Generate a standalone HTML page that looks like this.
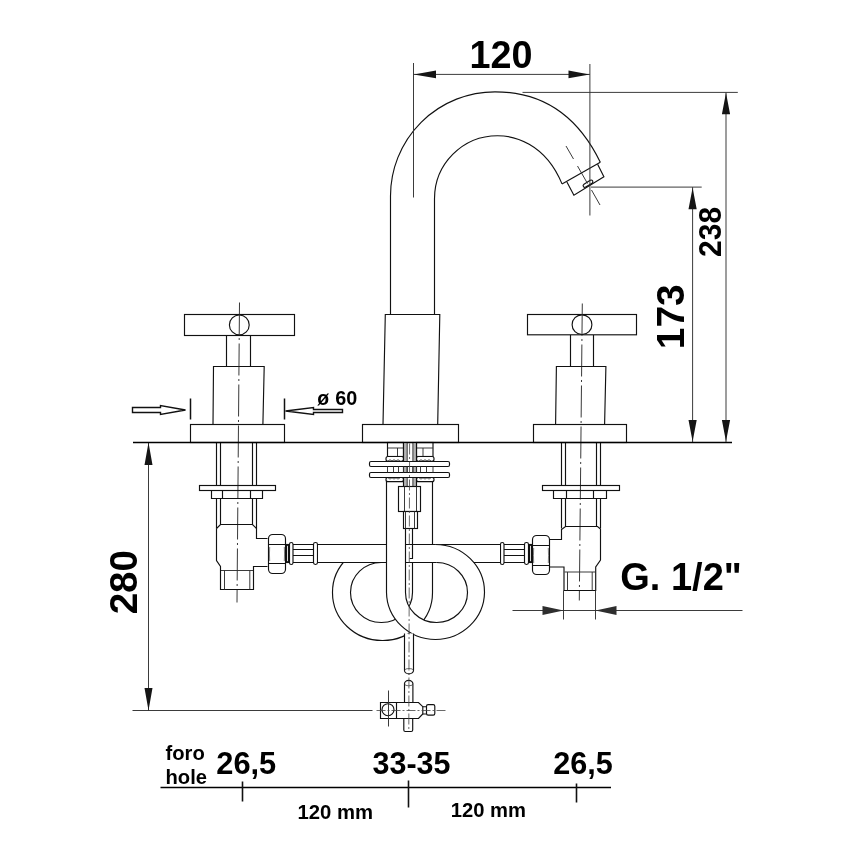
<!DOCTYPE html>
<html>
<head>
<meta charset="utf-8">
<title>Technical drawing</title>
<style>
html,body{margin:0;padding:0;background:#fff;}
svg{display:block;will-change:transform;filter:grayscale(1);}
text{font-family:"Liberation Sans",sans-serif;font-weight:bold;fill:#000;}
.l{fill:none;stroke:#111;stroke-width:1.15;}
.t{fill:none;stroke:#303030;stroke-width:0.95;}
.k{fill:none;stroke:#000;stroke-width:2;}
.w{fill:#fff;stroke:#111;stroke-width:1.15;}
.a{fill:#151515;stroke:none;}
.c{fill:none;stroke:#222;stroke-width:0.9;stroke-dasharray:32 3.5 2 3.5;}
</style>
</head>
<body>
<svg width="868" height="868" viewBox="0 0 868 868">
<rect width="868" height="868" fill="#fff"/>

<!-- ===== SPOUT ===== -->
<g id="spout">
<path class="l" d="M390.5,314.5 V196 A104.5,104.2 0 0 1 495,91.8 C510.4,91.8 566.1,91.8 600.3,162.3"/>
<path class="l" d="M434.5,314.5 V198.7 A63,63 0 0 1 497.5,135.7 C513.1,135.7 544.9,142.6 562,183.9"/>
<path class="l" d="M600.3,162.3 L562,183.9"/>
<path class="l" d="M597.6,164.2 L603.9,176.8 L573.9,195.2 L566.9,182"/>
<rect class="l" x="582.6" y="182" width="10.8" height="3.4" rx="1.7" fill="#fff" transform="rotate(-31.5 588 183.7)"/>
<path class="t" d="M566,146 L573.5,159 M577.5,166 L587.5,183.5 M591.5,190 L600,205"/>
<!-- body -->
<path class="l" d="M385.3,314.5 H439.8 L437.7,424.5 H383 Z"/>
<rect class="l" x="362.5" y="424.5" width="96" height="18"/>
</g>

<!-- ===== LEFT HANDLE ===== -->
<g id="lh">
<rect class="l" x="184.5" y="314.5" width="110" height="21"/>
<circle class="w" cx="239.3" cy="324.9" r="9.9"/>
<path class="l" d="M226.5,335.5 V366.5 M250.5,335.5 V366.5"/>
<path class="l" d="M213.5,366.5 H264.2 L262.9,424.5 H213 Z"/>
<rect class="l" x="190.5" y="424.5" width="94" height="18"/>
<path class="c" d="M239.5,302.5 L237,602.5"/>
<!-- below table -->
<path class="l" d="M216.5,442.5 V485.5 M220.5,442.5 V485.5 M252.5,442.5 V485.5 M256.5,442.5 V485.5"/>
<rect class="l" x="199.5" y="485.5" width="76" height="5"/>
<path class="l" d="M211.5,490.5 V498.5 H262.5 V490.5 M222.5,490.5 V498.5 M250.5,490.5 V498.5"/>
<path class="l" d="M216.5,498.5 V528.5 M220.5,498.5 V524.5 M252.5,498.5 V524.5 M256.5,498.5 V528.5"/>
<path class="l" d="M216.5,528.5 L220.5,524.5 H252.5 L256.5,528.5 V538.5 H267.5 M267.5,566.5 H253.5 V589.5 H220.5 V566.5 L216.5,560.5 V528.5"/>
<path class="t" d="M221,570.5 H253 M224.5,570.5 V589.5 M249.8,570.5 V589.5"/>
<!-- hex nut -->
<rect class="w" x="268.5" y="534.5" width="17" height="39" rx="4.2"/>
<path class="l" d="M268.5,544.5 H285.5 M268.5,563.5 H285.5"/>
<path class="t" d="M269.7,547 Q269.2,554 269.7,561 M284.3,547 Q284.8,554 284.3,561" style="stroke-width:.6"/>
<rect class="l" x="286.5" y="544.5" width="2" height="18"/>
<!-- ferrule -->
<rect class="w" x="292" y="544.5" width="22.5" height="18" rx="1.2"/>
<path class="l" d="M292.5,549.5 H314 M292.5,555.5 H314"/>
<rect class="w" x="289.5" y="542.5" width="3.5" height="22" rx="1.75"/>
<rect class="w" x="313.5" y="542.5" width="4" height="22" rx="1.9"/>
</g>

<!-- ===== RIGHT HANDLE ===== -->
<g id="rh">
<rect class="l" x="527.5" y="314.5" width="109" height="20.3"/>
<circle class="w" cx="582" cy="324.7" r="9.9"/>
<path class="l" d="M570.5,335 V366.5 M593.5,335 V366.5"/>
<path class="l" d="M556.4,366.5 H605.9 L604.6,424.5 H555.6 Z"/>
<rect class="l" x="533.5" y="424.5" width="93" height="18"/>
<path class="c" d="M582.3,303.5 L579.3,600.5"/>
<!-- below table -->
<path class="l" d="M561.5,442.5 V485.5 M565.5,442.5 V485.5 M596.5,442.5 V485.5 M600.5,442.5 V485.5"/>
<rect class="l" x="542.5" y="485.5" width="77" height="5"/>
<path class="l" d="M553.5,490.5 V498.5 H606.5 V490.5 M566.5,490.5 V498.5 M593.5,490.5 V498.5"/>
<path class="l" d="M561.5,498.5 V528.5 M565.5,498.5 V526.5 M596.5,498.5 V526.5 M600.5,498.5 V528.5"/>
<path class="l" d="M600.5,529 L597.5,526.5 H565.5 L561.5,529.5 V539.5 H549.5 M549.5,567 H564 V590.5 H595.7 V567 L600.5,560 V529"/>
<path class="t" d="M564.5,572 H595.5 M567.5,572 V590.5 M592.2,572 V590.5"/>
<!-- hex nut -->
<rect class="w" x="532.5" y="535.5" width="17" height="39" rx="4.2"/>
<path class="l" d="M532.5,545.5 H549.5 M532.5,565.5 H549.5"/>
<path class="t" d="M533.7,548 Q533.2,555.5 533.7,563 M548.3,548 Q548.8,555.5 548.3,563" style="stroke-width:.6"/>
<rect class="l" x="529.5" y="544.5" width="2" height="18"/>
<!-- ferrule -->
<rect class="w" x="503" y="544.5" width="23" height="18" rx="1.2"/>
<path class="l" d="M503.5,549.5 H525.5 M503.5,555.5 H525.5"/>
<rect class="w" x="500.5" y="542.5" width="3.5" height="22" rx="1.75"/>
<rect class="w" x="524.5" y="542.5" width="4" height="22" rx="1.9"/>
</g>

<!-- ===== DIMENSIONS TOP ===== -->
<g id="dimtop">
<path class="t" d="M413.5,63 V197.5 M589.9,64 V215.5"/>
<path class="t" d="M413.5,74.4 H589.9"/>
<path class="a" d="M413.8,74.4 L436,70.5 V78.3 Z M589.6,74.4 L568.5,70.6 V78.2 Z"/>
<text transform="translate(501,68) scale(0.974,1)" font-size="38.8" text-anchor="middle">120</text>
<path class="t" d="M522.5,92.4 H737.8"/>
<path class="t" d="M591,187.1 H701.7"/>
<path class="t" d="M726,92.5 V442.5 M692.6,187.1 V442.5"/>
<path class="a" d="M726,92.8 L721.9,114.3 H730.1 Z M726,441.5 L721.9,420 H730.1 Z M692.6,187.8 L688.5,209.3 H696.7 Z M692.6,441.5 L688.5,420 H696.7 Z"/>
<text transform="translate(720.5,231.9) rotate(-90) scale(0.95,1)" font-size="31.6" text-anchor="middle">238</text>
<text transform="translate(683.8,316.8) rotate(-90) scale(0.99,1)" font-size="39.2" text-anchor="middle">173</text>
</g>

<!-- ===== ø60 ===== -->
<g id="d60">
<path class="l" d="M190.5,398.5 V419.5 M284.5,398.5 V419.5" style="stroke-width:1.5"/>
<path class="l" d="M132.5,407.5 H160.5 V405.5 L185.5,410 L160.5,414.5 V412.5 H132.5 Z" style="stroke-width:1.4"/>
<path class="l" d="M342.5,409.5 H313.5 V407.5 L285.5,411 L313.5,414.5 V412.5 H342.5 Z" style="stroke-width:1.4"/>
<text x="317.2" y="405.2" font-size="19.4">ø</text>
<text x="335.3" y="405.2" font-size="19.8">60</text>
</g>

<!-- ===== HOSES ===== -->
<g id="hoses">
<!-- hose B (from right valve, left loop, behind) -->
<rect x="381" y="544.5" width="119" height="18" fill="#fff"/>
<path class="l" d="M500.5,544.5 H380.5 M500.5,562.5 H380.5"/>
<path class="w" d="M382.5,544.5 A49.7,47.8 0 0 0 332.5,592.5 A49.7,47.8 0 0 0 382.5,640.5 A49.7,47.8 0 0 0 432.5,592.5 V481.5 H412.5 V592.5 A31.5,30 0 0 1 381.5,622.5 A30.7,30 0 0 1 350.5,592.5 A30.7,30 0 0 1 381.5,562.5"/>
<!-- hose A (from left valve, right loop, in front) -->
<rect x="318.2" y="544.5" width="118.8" height="18" fill="#fff"/>
<path class="l" d="M317.5,544.5 H436.5 M317.5,562.5 H436.5"/>
<path class="l" d="M412.5,544.5 V558.5 H409.5"/>
<path class="w" d="M435.5,544.5 A49.4,47.7 0 0 1 484.5,592.5 A49.4,47.7 0 0 1 435.5,639.5 A49.2,47.7 0 0 1 386.5,592.5 V481.5 H405.5 V592.5 A31,30 0 0 0 436.5,622.5 A30.8,30 0 0 0 467.5,592.5 A30.8,30 0 0 0 436.5,562.5"/>
</g>

<!-- ===== CENTER UNDER TABLE ===== -->
<g id="center">
<!-- nuts -->
<rect class="w" x="387.5" y="442.5" width="16" height="14"/>
<rect class="w" x="416.5" y="442.5" width="16.5" height="14"/>
<path class="t" d="M397.5,448 V456.5 M387.5,448 H403.5 M423,448 V456.5 M416.5,448 H433"/>
<!-- lock washers -->
<rect class="w" x="386" y="456.5" width="17.5" height="4.8" rx="2"/>
<rect class="w" x="416.5" y="456.5" width="17.5" height="4.8" rx="2"/>
<path class="t" d="M388,461 q2,-2.6 4,0 q2,-2.6 4,0 q2,-2.6 4,0 M419,461 q2,-2.6 4,0 q2,-2.6 4,0 q2,-2.6 4,0" style="stroke-width:.8"/>
<rect class="w" x="386" y="477.3" width="17.5" height="4.4" rx="2"/>
<rect class="w" x="416.5" y="477.3" width="17.5" height="4.4" rx="2"/>
<path class="t" d="M388,477.8 q2,2.6 4,0 q2,2.6 4,0 q2,2.6 4,0 M419,477.8 q2,2.6 4,0 q2,2.6 4,0 q2,2.6 4,0" style="stroke-width:.8"/>
<!-- threaded rod -->
<rect x="403.8" y="443" width="12.7" height="43" fill="#fff"/>
<rect x="403.6" y="443.5" width="3.6" height="43" fill="#b5b5b5"/>
<rect x="412.9" y="443.5" width="3.4" height="43" fill="#b5b5b5"/>
<path class="l" d="M403.5,442.5 V486.5 M416.5,442.5 V486.5"/>
<path class="t" d="M407.2,442.5 V486.5 M412.9,442.5 V486.5"/>
<!-- plates -->
<rect class="w" x="369.5" y="461.5" width="80" height="5" rx="1.5"/>
<rect class="w" x="369.5" y="472.5" width="80" height="5" rx="1.5"/>
<path class="t" d="M387.5,466.5 V472.5 M393.5,466.5 V472.5 M398.5,466.5 V472.5 M403.5,466.5 V472.5 M407.2,466.5 V472.5 M412.9,466.5 V472.5 M416.5,466.5 V472.5 M420.5,466.5 V472.5 M426.5,466.5 V472.5 M433,466.5 V472.5"/>
<!-- coupling -->
<rect class="w" x="398.5" y="486.5" width="22" height="25"/>
<path class="t" d="M404.5,486.5 V511.5 M416.5,486.5 V511.5"/>
<rect class="w" x="403.5" y="511.5" width="14" height="17"/>
<path class="t" d="M405.5,511.5 V528.5 M414.5,511.5 V528.5"/>
<!-- rod through -->
<!-- lower rod -->
<path class="w" d="M404.5,633.5 V670.5 A4.5,3.4 0 0 0 413.5,670.5 V633.5"/>
<path class="t" d="M404.5,670.5 A4.5,2 0 0 1 413.5,670.5" style="stroke-width:.7"/>
<path class="w" d="M404.5,702.5 V683.8 A4.2,3.5 0 0 1 412.9,683.8 V702.5"/>
<path class="t" d="M404.5,683.8 A4.2,2 0 0 0 412.9,683.8" style="stroke-width:.7"/>
<path class="l" d="M403.8,718.5 V730 Q403.8,731.5 405.3,731.5 H411.2 Q412.7,731.5 412.7,730 V718.5"/>
<!-- clamp -->
<path class="l" d="M380.5,702.5 H418.5 L422.8,706.7 V714 L418.5,718.5 H380.5 Z"/>
<path class="l" d="M396.5,702.5 V718.5"/>
<circle class="l" cx="388" cy="709.7" r="6"/>
<path class="t" d="M388.5,690.5 V726.5"/>
<path class="l" d="M422.8,706.7 H426.5 M422.8,714 H426.5"/><rect class="l" x="426.5" y="704.6" width="8.3" height="10.6" rx="1.6"/>
<path class="c" d="M376.5,710.5 H446.5" style="stroke:#444;stroke-width:.8;stroke-dasharray:9 2 2 2"/>
<!-- centre line -->
<path class="c" d="M409.6,443.5 L408.8,731" style="stroke:#444;stroke-width:.8;stroke-dasharray:11 2.5 2 2.5"/>
</g>

<!-- ===== 280 ===== -->
<g id="d280">
<path class="t" d="M148.5,442.5 V710.5 M132.5,710.5 H372.5"/>
<path class="a" d="M148.5,442.5 L144.5,465 H152.5 Z M148.5,710.5 L144.5,688 H152.5 Z"/>
<text transform="translate(137.2,582.2) rotate(-90) scale(0.972,1)" font-size="39.7" text-anchor="middle">280</text>
</g>

<!-- ===== G 1/2 ===== -->
<g id="g12">
<path class="t" d="M563.5,590.5 V619.5 M595.5,590.5 V619.5"/>
<path class="t" d="M512.5,610.5 H742.5"/>
<path class="a" d="M563.5,610.5 L542.5,606 V615 Z M595.5,610.5 L616.5,606 V615 Z" style="fill:#2e2e2e"/>
<text x="620.3" y="589.6" font-size="38">G. 1/2"</text>
</g>

<!-- ===== BOTTOM DIMS ===== -->
<g id="bottom">
<path class="k" d="M160.5,787.5 H611" style="stroke-width:1.7"/>
<path class="l" d="M242.5,781.5 V801.5 M408.5,780.5 V807.5 M576.5,783.5 V802.5" style="stroke-width:1.6"/>
<text x="165.5" y="760.1" font-size="20.2">foro</text>
<text x="165.5" y="784" font-size="20.2">hole</text>
<text x="216.3" y="774.1" font-size="30.8">26,5</text>
<text x="372.5" y="773.6" font-size="30.5">33-35</text>
<text x="553.2" y="773.8" font-size="30.6">26,5</text>
<text x="297.5" y="818.8" font-size="20.3">120 mm</text>
<text x="450.8" y="817.4" font-size="20.2">120 mm</text>
</g>

<!-- ===== TABLE LINE ===== -->
<path class="k" d="M133,442.4 H732" style="stroke-width:1.5"/>

</svg>
</body>
</html>
